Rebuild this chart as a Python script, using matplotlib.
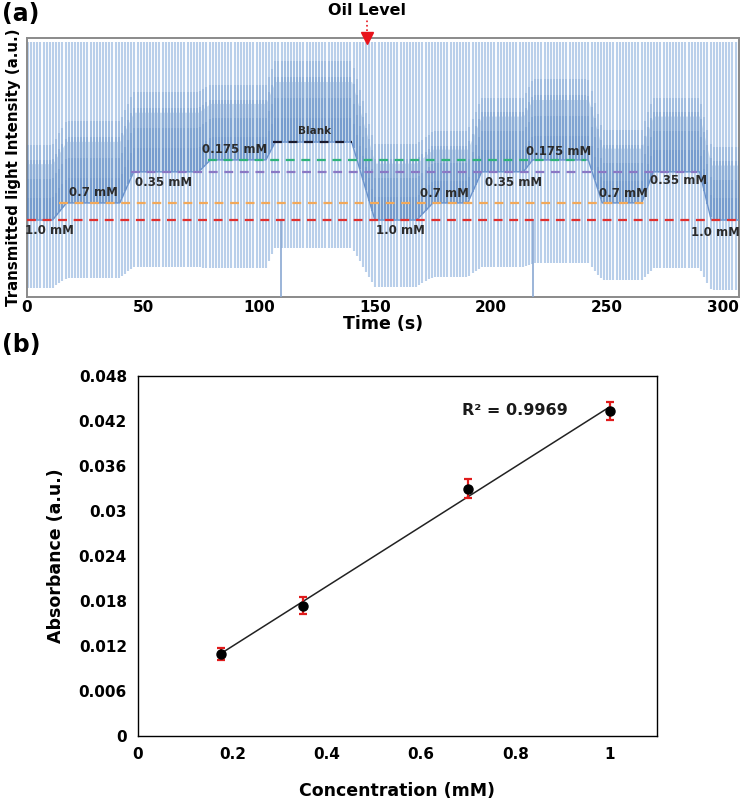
import numpy as np
import matplotlib
matplotlib.use("Agg")
import matplotlib.pyplot as plt

plt.rcParams['font.family'] = ['DejaVu Sans']

# ---------------- Panel (a) data: droplet signal envelope ----------------
seg_label = ['1.0 mM', '0.7 mM', '0.35 mM', '0.175 mM', 'Blank', '1.0 mM',
             '0.7 mM', '0.35 mM', '0.175 mM', '0.7 mM', '0.35 mM', '1.0 mM']
seg_start = [0, 17, 46, 79, 107, 150, 175, 196, 218, 248, 270, 295]
seg_end = [11, 40, 74, 103, 140, 168, 190, 214, 242, 265, 290, 307]
plateau = [0.297, 0.363, 0.483, 0.529, 0.598, 0.297, 0.363, 0.483, 0.529, 0.363, 0.483, 0.297]
bottom = [0.035, 0.073, 0.116, 0.110, 0.190, 0.040, 0.077, 0.116, 0.130, 0.066, 0.110, 0.027]
upper = [0.587, 0.680, 0.790, 0.820, 0.910, 0.590, 0.640, 0.770, 0.840, 0.645, 0.770, 0.580]
top_level = 0.985
droplet_period = 1.35
spike_times = [109.5, 218.0]
oil_level_time = 146.8

# reference (dashed) levels: name, level, start, end, colour
ref_names = ['1.0 mM', '0.7 mM', '0.35 mM', '0.175 mM', 'Blank']
ref_levels = [0.297, 0.363, 0.483, 0.529, 0.598]
ref_start = [0, 14, 45, 78, 106]
ref_end = [307, 267, 289, 241, 140]
ref_colors = ['#e0302e', '#f2a95a', '#8a78c4', '#2fb37a', '#1a1a2e']

# label positions (time, level) for concentration annotations
lab_text = ['1.0 mM', '0.7 mM', '0.35 mM', '0.175 mM', 'Blank', '1.0 mM',
            '0.7 mM', '0.35 mM', '0.175 mM', '0.7 mM', '0.35 mM', '1.0 mM']
lab_t = [9.5, 28.8, 58.8, 89.7, 124, 161, 180, 210, 229, 257, 281, 297]
lab_y = [0.257, 0.405, 0.440, 0.568, 0.640, 0.255, 0.400, 0.440, 0.560, 0.400, 0.448, 0.247]

# ---------------- Panel (b) data: calibration ----------------
conc = [0.175, 0.35, 0.7, 1.0]
absorb = [0.0110, 0.0174, 0.0330, 0.0433]
absorb_err = [0.0008, 0.0011, 0.0013, 0.0012]
xticks_b = [0, 0.2, 0.4, 0.6, 0.8, 1.0]
xtick_lab_b = ['0', '0.2', '0.4', '0.6', '0.8', '1']
yticks_b = [0, 0.006, 0.012, 0.018, 0.024, 0.03, 0.036, 0.042, 0.048]
ytick_lab_b = ['0', '0.006', '0.012', '0.018', '0.024', '0.03', '0.036', '0.042', '0.048']

# ---------------- Figure ----------------
fig = plt.figure(figsize=(7.42, 8.07), dpi=100)
ax1 = fig.add_axes([0.0364, 0.632, 0.9596, 0.321])
ax2 = fig.add_axes([0.186, 0.088, 0.699, 0.446])

# envelope keypoints
kt, kp, kb, ku = [], [], [], []
for s, e, p, b, u in zip(seg_start, seg_end, plateau, bottom, upper):
    kt += [s, e]
    kp += [p, p]
    kb += [b, b]
    ku += [u, u]

tc = np.arange(0.4, 307, droplet_period)
P = np.interp(tc, kt, kp)
B = np.interp(tc, kt, kb)
U = np.interp(tc, kt, ku)

tf = np.linspace(0, 307, 1500)
Pf = np.interp(tf, kt, kp)
Uf = np.interp(tf, kt, ku)
ax1.fill_between(tf, Pf, Pf + 0.75 * (Uf - Pf), color='#d3e1f2', lw=0, zorder=1)
ax1.vlines(tc, B, top_level, color='#b9cfea', lw=1.5, zorder=2)
for frac, a in [(1.0, 0.22), (0.8, 0.22), (0.55, 0.22), (0.3, 0.2)]:
    ax1.vlines(tc, P, P + frac * (U - P), color='#4f7fc0', lw=1.5,
               alpha=a, zorder=3)
ax1.plot(tf, Pf, color='#6b93cc', lw=1.0, zorder=4)
ax1.vlines(spike_times, 0, 0.3, color='#8aa8d2', lw=1.2, zorder=4)

for lvl, s, e, c in zip(ref_levels, ref_start, ref_end, ref_colors):
    ax1.plot([s, e], [lvl, lvl], ls=(0, (4, 3)), color=c, lw=1.6, zorder=5)

for txt, t, y in zip(lab_text, lab_t, lab_y):
    fs = 7.5 if txt == 'Blank' else 8.5
    ax1.text(t, y, txt, ha='center', va='center', fontsize=fs,
             fontweight='bold', color='#2b2b2b', zorder=6)

ax1.set_xlim(0, 307)
ax1.set_ylim(0, 1)
ax1.set_yticks([])
ax1.set_xticks([0, 50, 100, 150, 200, 250, 300])
ax1.tick_params(axis='x', length=0, labelsize=11, pad=2)
for lab in ax1.get_xticklabels():
    lab.set_fontweight('bold')
for sp in ax1.spines.values():
    sp.set_color('#8a8a8a')
    sp.set_linewidth(1.4)
ax1.set_xlabel('Time (s)', fontsize=12.5, fontweight='bold', labelpad=0)
ax1.set_ylabel('Transmitted light Intensity (a.u.)', fontsize=10.8,
               fontweight='bold', labelpad=4)

# Oil level marker
ax1.plot([oil_level_time], [1.0], marker='v', color='#e8141c', ms=8,
         clip_on=False, zorder=7)
ax1.plot([oil_level_time, oil_level_time], [1.025, 1.075], ls=':',
         color='#e8141c', lw=1.2, clip_on=False)
ax1.text(oil_level_time, 1.105, 'Oil Level', ha='center', va='center',
         fontsize=11.5, fontweight='bold', transform=ax1.transData)

fig.text(0.003, 0.983, '(a)', fontsize=17, fontweight='bold', va='center')
fig.text(0.003, 0.573, '(b)', fontsize=17, fontweight='bold', va='center')

# ---------------- Panel (b) ----------------
coef = np.polyfit(conc, absorb, 1)
xl = np.array([conc[0], conc[-1]])
ax2.plot(xl, np.polyval(coef, xl), color='#222222', lw=1.1, zorder=2)
ax2.errorbar(conc, absorb, yerr=absorb_err, fmt='o', color='black',
             ms=6.5, ecolor='#e01b1b', elinewidth=1.6, capsize=3, capthick=1.6,
             zorder=3)
ax2.text(0.80, 0.0434, 'R² = 0.9969', ha='center', va='center',
         fontsize=11.5, fontweight='bold', color='#1a1a1a')

ax2.set_xlim(0, 1.1)
ax2.set_ylim(0, 0.048)
ax2.set_xticks(xticks_b)
ax2.set_xticklabels(xtick_lab_b)
ax2.set_yticks(yticks_b)
ax2.set_yticklabels(ytick_lab_b)
ax2.tick_params(length=0, labelsize=11, pad=8)
for lab in ax2.get_xticklabels() + ax2.get_yticklabels():
    lab.set_fontweight('bold')
for sp in ax2.spines.values():
    sp.set_color('black')
    sp.set_linewidth(1.0)
ax2.set_xlabel('Concentration (mM)', fontsize=12.5, fontweight='bold', labelpad=14)
ax2.set_ylabel('Absorbance (a.u.)', fontsize=12.5, fontweight='bold', labelpad=10)

fig.savefig('out.png', dpi=100)
